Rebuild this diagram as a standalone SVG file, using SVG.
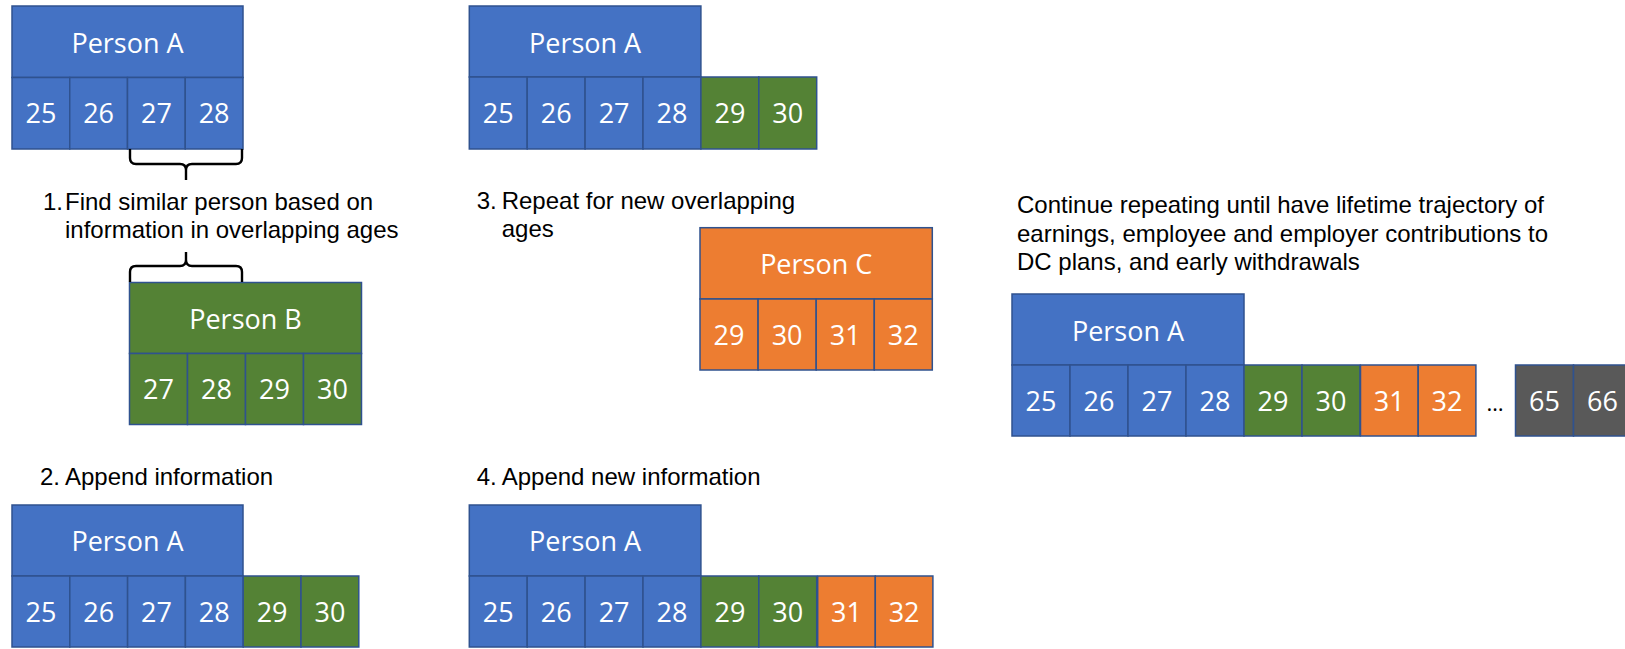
<svg xmlns="http://www.w3.org/2000/svg" width="1625" height="649" viewBox="0 0 1625 649">
<style>
rect{stroke:#2F528F;stroke-width:1.5}
.bl{fill:#4472C4}
.gr{fill:#548235}
.or{fill:#ED7D31}
.gy{fill:#595959}
.w{font-family:"Open Sans","Liberation Sans",sans-serif;font-size:27px;fill:#fff;text-anchor:middle}
.lbl{font-family:"Liberation Sans",Arial,sans-serif;font-size:24px;fill:#000}
.brace{fill:none;stroke:#000;stroke-width:2.4}
</style>

<g id="panel1-personA">
<rect class="bl" x="12" y="6" width="231" height="71.5"/>
<rect class="bl" x="12" y="77.5" width="57.75" height="71.5"/>
<rect class="bl" x="69.75" y="77.5" width="57.75" height="71.5"/>
<rect class="bl" x="127.5" y="77.5" width="57.75" height="71.5"/>
<rect class="bl" x="185.25" y="77.5" width="57.75" height="71.5"/>
<text class="w" x="127.5" y="53">Person A</text>
<text class="w" x="40.9" y="123">25</text>
<text class="w" x="98.6" y="123">26</text>
<text class="w" x="156.4" y="123">27</text>
<text class="w" x="214.1" y="123">28</text>
</g>

<g id="step1-label">
<text class="lbl" x="43" y="210">1.</text>
<text class="lbl" x="65" y="210">Find similar person based on</text>
<text class="lbl" x="65" y="238">information in overlapping ages</text>
</g>

<g id="panel1-personB">
<rect class="gr" x="129.5" y="282.5" width="232" height="71"/>
<rect class="gr" x="129.5" y="353.5" width="58" height="71"/>
<rect class="gr" x="187.5" y="353.5" width="58" height="71"/>
<rect class="gr" x="245.5" y="353.5" width="58" height="71"/>
<rect class="gr" x="303.5" y="353.5" width="58" height="71"/>
<text class="w" x="245.5" y="329">Person B</text>
<text class="w" x="158.5" y="399">27</text>
<text class="w" x="216.5" y="399">28</text>
<text class="w" x="274.5" y="399">29</text>
<text class="w" x="332.5" y="399">30</text>
</g>

<g id="step2-label">
<text class="lbl" x="40" y="485">2.</text>
<text class="lbl" x="65" y="485">Append information</text>
</g>

<g id="panel2-personA">
<rect class="bl" x="12" y="505" width="231" height="71"/>
<rect class="bl" x="12" y="576" width="57.8" height="71"/>
<rect class="bl" x="69.8" y="576" width="57.8" height="71"/>
<rect class="bl" x="127.6" y="576" width="57.8" height="71"/>
<rect class="bl" x="185.4" y="576" width="57.8" height="71"/>
<rect class="gr" x="243.2" y="576" width="57.8" height="71"/>
<rect class="gr" x="301" y="576" width="57.8" height="71"/>
<text class="w" x="127.5" y="551">Person A</text>
<text class="w" x="40.9" y="622">25</text>
<text class="w" x="98.7" y="622">26</text>
<text class="w" x="156.5" y="622">27</text>
<text class="w" x="214.3" y="622">28</text>
<text class="w" x="272.1" y="622">29</text>
<text class="w" x="329.9" y="622">30</text>
</g>

<g id="panel3-personA">
<rect class="bl" x="469.3" y="6" width="231.6" height="71"/>
<rect class="bl" x="469.3" y="77" width="57.9" height="72"/>
<rect class="bl" x="527.2" y="77" width="57.9" height="72"/>
<rect class="bl" x="585.1" y="77" width="57.9" height="72"/>
<rect class="bl" x="643" y="77" width="57.9" height="72"/>
<rect class="gr" x="700.9" y="77" width="57.9" height="72"/>
<rect class="gr" x="758.8" y="77" width="57.9" height="72"/>
<text class="w" x="585.1" y="52.5">Person A</text>
<text class="w" x="498.3" y="123">25</text>
<text class="w" x="556.2" y="123">26</text>
<text class="w" x="614.1" y="123">27</text>
<text class="w" x="672" y="123">28</text>
<text class="w" x="729.9" y="123">29</text>
<text class="w" x="787.8" y="123">30</text>
</g>

<g id="step3-label">
<text class="lbl" x="476.7" y="209">3.</text>
<text class="lbl" x="501.7" y="209">Repeat for new overlapping</text>
<text class="lbl" x="501.7" y="236.5">ages</text>
</g>

<g id="panel3-personC">
<rect class="or" x="700" y="227.7" width="232.3" height="71.3"/>
<rect class="or" x="700" y="299" width="58.1" height="71"/>
<rect class="or" x="758.1" y="299" width="58.1" height="71"/>
<rect class="or" x="816.2" y="299" width="58.1" height="71"/>
<rect class="or" x="874.3" y="299" width="58" height="71"/>
<text class="w" x="816.2" y="273.5">Person C</text>
<text class="w" x="729" y="345">29</text>
<text class="w" x="787.1" y="345">30</text>
<text class="w" x="845.2" y="345">31</text>
<text class="w" x="903.3" y="345">32</text>
</g>

<g id="step4-label">
<text class="lbl" x="476.7" y="485">4.</text>
<text class="lbl" x="501.7" y="485">Append new information</text>
</g>

<g id="panel4-personA">
<rect class="bl" x="469.3" y="505" width="231.6" height="71"/>
<rect class="bl" x="469.3" y="576" width="57.9" height="71"/>
<rect class="bl" x="527.2" y="576" width="57.9" height="71"/>
<rect class="bl" x="585.1" y="576" width="57.9" height="71"/>
<rect class="bl" x="643" y="576" width="57.9" height="71"/>
<rect class="gr" x="700.9" y="576" width="57.9" height="71"/>
<rect class="gr" x="758.8" y="576" width="57.9" height="71"/>
<rect class="or" x="817.7" y="576" width="57.6" height="71"/>
<rect class="or" x="875.3" y="576" width="57.6" height="71"/>
<text class="w" x="585.1" y="551">Person A</text>
<text class="w" x="498.3" y="622">25</text>
<text class="w" x="556.2" y="622">26</text>
<text class="w" x="614.1" y="622">27</text>
<text class="w" x="672" y="622">28</text>
<text class="w" x="729.9" y="622">29</text>
<text class="w" x="787.8" y="622">30</text>
<text class="w" x="846.5" y="622">31</text>
<text class="w" x="904.1" y="622">32</text>
</g>

<g id="step5-label">
<text class="lbl" x="1017" y="213">Continue repeating until have lifetime trajectory of</text>
<text class="lbl" x="1017" y="242">earnings, employee and employer contributions to</text>
<text class="lbl" x="1017" y="270">DC plans, and early withdrawals</text>
</g>

<g id="panel5-personA">
<rect class="bl" x="1012" y="294" width="232" height="71"/>
<rect class="bl" x="1012" y="365" width="58" height="71"/>
<rect class="bl" x="1070" y="365" width="58" height="71"/>
<rect class="bl" x="1128" y="365" width="58" height="71"/>
<rect class="bl" x="1186" y="365" width="58" height="71"/>
<rect class="gr" x="1244" y="365" width="58" height="71"/>
<rect class="gr" x="1302" y="365" width="58" height="71"/>
<rect class="or" x="1360.5" y="365" width="57.7" height="71"/>
<rect class="or" x="1418.2" y="365" width="57.7" height="71"/>
<rect class="gy" x="1515.5" y="365" width="58" height="71"/>
<rect class="gy" x="1573.5" y="365" width="58" height="71"/>
<text class="w" x="1128" y="340.5">Person A</text>
<text class="w" x="1041" y="411">25</text>
<text class="w" x="1099" y="411">26</text>
<text class="w" x="1157" y="411">27</text>
<text class="w" x="1215" y="411">28</text>
<text class="w" x="1273" y="411">29</text>
<text class="w" x="1331" y="411">30</text>
<text class="w" x="1389.3" y="411">31</text>
<text class="w" x="1447" y="411">32</text>
<text class="w" x="1495" y="411" style="fill:#000;font-size:22px">…</text>
<text class="w" x="1544.5" y="411">65</text>
<text class="w" x="1602.5" y="411">66</text>
</g>

<g id="connectors">
<path class="brace" d="M130,149 L130,158 Q130,164 136,164 L180,164 Q186,164 186,170 L186,180 M186,170 Q186,164 192,164 L236,164 Q242,164 242,158 L242,149"/>
<path class="brace" d="M186,252 L186,260 Q186,266 180,266 L136,266 Q130,266 130,272 L130,282 M186,260 Q186,266 192,266 L236,266 Q242,266 242,272 L242,282"/>
</g>
</svg>
